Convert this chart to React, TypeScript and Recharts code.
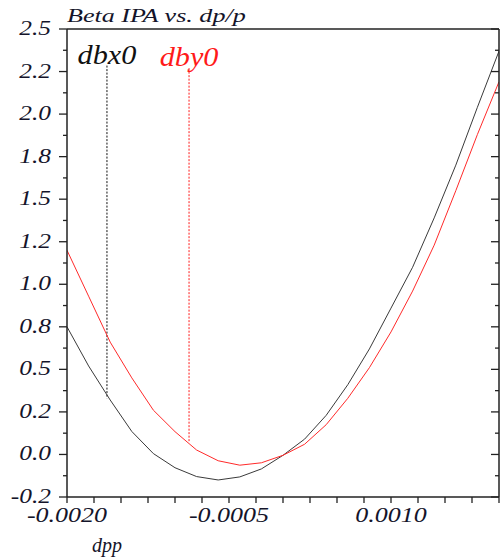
import { LineChart, Line, XAxis, YAxis, ReferenceLine } from "recharts";

// momentum offset dp/p
const dppValues = [
  -0.002, -0.0018, -0.0016, -0.0014, -0.0012, -0.001, -0.0008, -0.0006, -0.0004, -0.0002,
  0, 0.0002, 0.0004, 0.0006, 0.0008, 0.001, 0.0012, 0.0014, 0.0016, 0.0018, 0.002,
];
// beat-beat x (black) and y (red)
const dbxValues = [
  0.75, 0.52, 0.32, 0.135, 0.005, -0.078, -0.13, -0.15, -0.132, -0.085,
  -0.005, 0.09, 0.23, 0.41, 0.62, 0.86, 1.1, 1.39, 1.7, 2.04, 2.37,
];
const dbyValues = [
  1.2, 0.93, 0.66, 0.45, 0.26, 0.134, 0.026, -0.037, -0.063, -0.049,
  -0.005, 0.06, 0.175, 0.33, 0.51, 0.72, 0.96, 1.23, 1.55, 1.88, 2.19,
];

// markers
const markerNames = ["dbx0", "dby0"];
const markerDpp = [-0.00163, -0.00087];
const markerTop = [2.285, 2.27];
const markerBottom = [0.33, 0.07];
const markerColors = ["#111", "#ff1a1a"];

const xTicks = [
  -0.002, -0.00175, -0.0015, -0.00125, -0.001, -0.00075, -0.0005, -0.00025, 0,
  0.00025, 0.0005, 0.00075, 0.001, 0.00125, 0.0015, 0.00175, 0.002,
];
const xLabelTicks = [-0.002, -0.0005, 0.001];
const xTickLabels = ["-0.0020", "-0.0005", "0.0010"];

const yTicks = [
  -0.25, -0.125, 0, 0.125, 0.25, 0.375, 0.5, 0.625, 0.75, 0.875, 1, 1.125, 1.25,
  1.375, 1.5, 1.625, 1.75, 1.875, 2, 2.125, 2.25, 2.375, 2.5,
];
const yMajorTicks = [2.5, 2.25, 2, 1.75, 1.5, 1.25, 1, 0.75, 0.5, 0.25, 0, -0.25];
const yTickLabels = ["2.5", "2.2", "2.0", "1.8", "1.5", "1.2", "1.0", "0.8", "0.5", "0.2", "0.0", "-0.2"];

const data = dppValues.map((d, i) => ({ dpp: d, dbx: dbxValues[i], dby: dbyValues[i] }));

const FONT = '"Liberation Serif", "Times New Roman", serif';
const AXIS = "#222";
const TEXT = "#14142a";

const majorIndex = (v: number) => yMajorTicks.findIndex((m) => Math.abs(m - v) < 1e-9);

function LeftTick({ x, y, payload }: any) {
  const i = majorIndex(payload.value);
  const len = i >= 0 ? 8 : 4;
  return (
    <g>
      <line x1={x - len} x2={x} y1={y} y2={y} stroke={AXIS} strokeWidth={1.3} />
      {i >= 0 && (
        <text
          transform={`translate(${x - 16},${y + 6}) scale(1.27,1)`}
          textAnchor="end"
          fontFamily={FONT}
          fontStyle="italic"
          fontSize={20}
          fill={TEXT}
        >
          {yTickLabels[i]}
        </text>
      )}
    </g>
  );
}

function RightTick({ x, y, payload }: any) {
  const len = majorIndex(payload.value) >= 0 ? 8 : 4;
  return <line x1={x - len} x2={x} y1={y} y2={y} stroke={AXIS} strokeWidth={1.3} />;
}

function BottomTick({ x, y, payload }: any) {
  const i = xLabelTicks.findIndex((v) => Math.abs(v - payload.value) < 1e-12);
  if (i < 0) return <g />;
  return (
    <text
      transform={`translate(${x},${y + 19}) scale(1.3,1)`}
      textAnchor="middle"
      fontFamily={FONT}
      fontStyle="italic"
      fontSize={20}
      fill={TEXT}
    >
      {xTickLabels[i]}
    </text>
  );
}

function MarkerLabel({ viewBox, value, fill }: any) {
  if (!viewBox) return null;
  return (
    <text
      transform={`translate(${viewBox.x + viewBox.width / 2},${viewBox.y - 2}) scale(1.08,1)`}
      textAnchor="middle"
      fontFamily={FONT}
      fontStyle="italic"
      fontSize={28}
      fill={fill}
    >
      {value}
    </text>
  );
}

export default function App() {
  return (
    <div style={{ position: "absolute", left: 0, top: 0, width: 500, height: 558 }}>
      <LineChart width={500} height={558} data={data} margin={{ top: 28, right: 0, bottom: 0, left: 0 }}>
        <XAxis
          xAxisId="bottom"
          dataKey="dpp"
          type="number"
          domain={[-0.002, 0.002]}
          ticks={xTicks}
          allowDataOverflow
          height={61}
          interval={0}
          tickSize={6}
          tickMargin={0}
          axisLine={{ stroke: AXIS, strokeWidth: 1.5 }}
          tickLine={{ stroke: AXIS, strokeWidth: 1.3 }}
          tick={<BottomTick />}
        />
        <XAxis
          xAxisId="top"
          orientation="top"
          dataKey="dpp"
          type="number"
          domain={[-0.002, 0.002]}
          ticks={xTicks}
          allowDataOverflow
          height={1}
          interval={0}
          tickSize={-5}
          axisLine={{ stroke: AXIS, strokeWidth: 1.5 }}
          tickLine={{ stroke: AXIS, strokeWidth: 1.3 }}
          tick={false}
        />
        <YAxis
          yAxisId="left"
          type="number"
          domain={[-0.25, 2.5]}
          ticks={yTicks}
          allowDataOverflow
          width={67}
          interval={0}
          tickSize={0}
          tickMargin={0}
          tickLine={false}
          axisLine={{ stroke: AXIS, strokeWidth: 1.5 }}
          tick={<LeftTick />}
        />
        <YAxis
          yAxisId="right"
          orientation="right"
          type="number"
          domain={[-0.25, 2.5]}
          ticks={yTicks}
          allowDataOverflow
          width={1}
          interval={0}
          tickSize={0}
          tickMargin={0}
          tickLine={false}
          axisLine={{ stroke: AXIS, strokeWidth: 1.5 }}
          tick={<RightTick />}
        />
        {markerNames.map((name, i) => (
          <ReferenceLine
            key={name}
            xAxisId="bottom"
            yAxisId="left"
            segment={[
              { x: markerDpp[i], y: markerTop[i] },
              { x: markerDpp[i], y: markerBottom[i] },
            ]}
            stroke={markerColors[i]}
            strokeWidth={1}
            strokeDasharray="2 1.5"
            label={<MarkerLabel value={name} fill={markerColors[i]} />}
          />
        ))}
        <Line
          xAxisId="bottom"
          yAxisId="left"
          type="linear"
          dataKey="dbx"
          stroke="#3a3a3a"
          strokeWidth={1}
          dot={false}
          isAnimationActive={false}
        />
        <Line
          xAxisId="bottom"
          yAxisId="left"
          type="linear"
          dataKey="dby"
          stroke="#ff2a2a"
          strokeWidth={1}
          dot={false}
          isAnimationActive={false}
        />
      </LineChart>
      <svg
        width={500}
        height={558}
        style={{ position: "absolute", left: 0, top: 0, pointerEvents: "none" }}
      >
        <text
          transform="translate(67,22) scale(1.45,1)"
          fontFamily={FONT}
          fontStyle="italic"
          fontSize={18}
          fill={TEXT}
        >
          Beta IPA vs. dp/p
        </text>
        <text x={107} y={552} textAnchor="middle" fontFamily={FONT} fontStyle="italic" fontSize={20} fill={TEXT}>
          dpp
        </text>
      </svg>
    </div>
  );
}
